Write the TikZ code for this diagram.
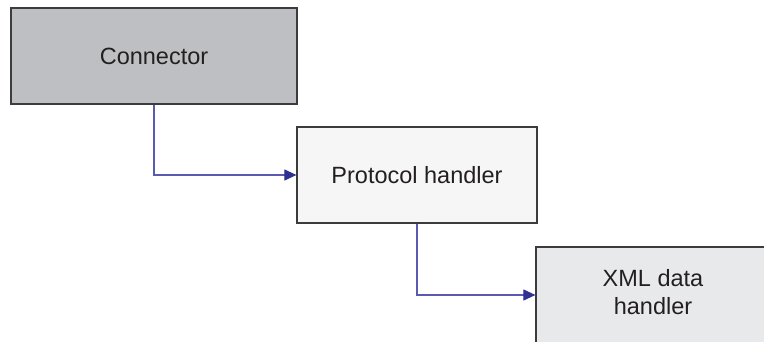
\documentclass[tikz,border=0pt]{standalone}
\usepackage{fontspec}
\setmainfont{Liberation Sans}
\usetikzlibrary{arrows.meta}
\definecolor{boxline}{HTML}{3C3C3E}
\definecolor{fillA}{HTML}{BEBFC3}
\definecolor{fillB}{HTML}{F6F6F6}
\definecolor{fillC}{HTML}{E8E9EB}
\definecolor{wire}{HTML}{5A5AB0}
\definecolor{tip}{HTML}{2E3192}
\definecolor{ink}{HTML}{231F20}
\begin{document}
\begin{tikzpicture}[x=1pt,y=-1pt,
  blk/.style={draw=boxline,line width=1.2pt,inner sep=0pt,text=ink,
    font=\fontsize{23.5}{28}\selectfont,align=center},
  wireline/.style={draw=wire,line width=1.1pt,
    -{Triangle[length=12pt,width=11pt,color=tip]}}]
\useasboundingbox (0,0) rectangle (764,342);
\clip (0,0) rectangle (764,342);
\fill[white] (0,0) rectangle (764,342);
\node[blk,fill=fillA,minimum width=286pt,minimum height=96pt] (conn) at (154,56) {Connector};
\node[blk,fill=fillB,minimum width=240pt,minimum height=96pt] (proto) at (417,175) {Protocol handler};
\node[blk,fill=fillC,minimum width=234pt,minimum height=116pt] (xml) at (653,305) {};
\node[text=ink,font=\fontsize{23.5}{28}\selectfont,align=center,inner sep=0pt] (xmlt) at (653,292) {XML data\\handler};
\coordinate (xmlin) at ([yshift=10pt]xml.west);
\draw[wireline] (conn.south) |- (proto.west);
\draw[wireline] (proto.south) |- (xmlin);
\end{tikzpicture}
\end{document}
